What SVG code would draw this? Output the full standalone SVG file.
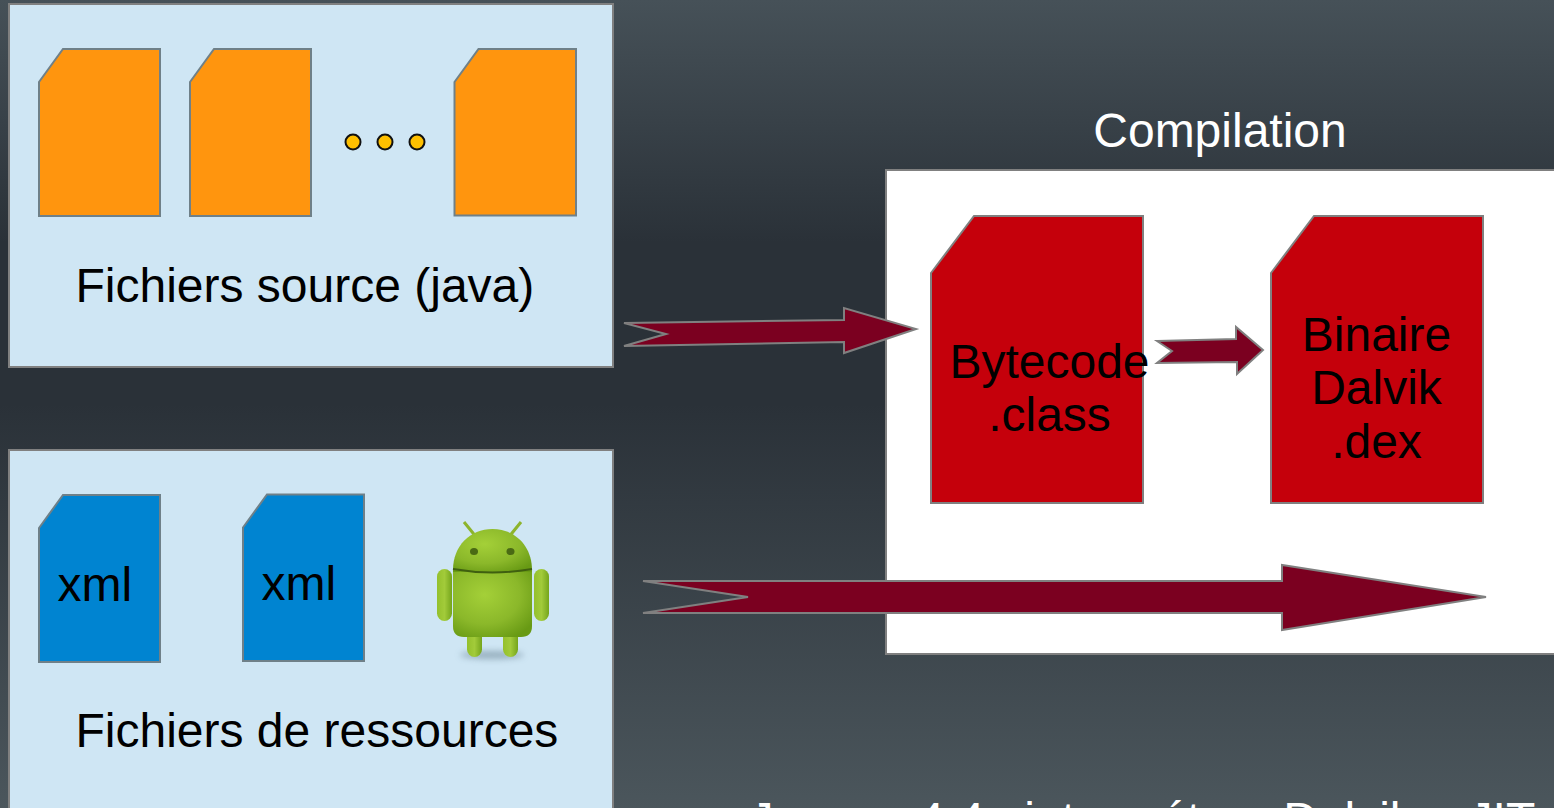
<svg xmlns="http://www.w3.org/2000/svg" width="1554" height="808" viewBox="0 0 1554 808">
<style>
text{font-family:"Liberation Sans",Arial,sans-serif;font-size:48px;fill:#000}
.panel{fill:#cfe6f4;stroke:#808080;stroke-width:2}
.src{fill:#ff950e;stroke:#6f8088;stroke-width:2}
.res{fill:#0084d1;stroke:#6f8088;stroke-width:2}
.bin{fill:#c5000b;stroke:#808080;stroke-width:2}
.arrow{fill:#7b0020;stroke:#808080;stroke-width:2}
.dot{fill:#ffc000;stroke:#111;stroke-width:2}
text.w{fill:#fff}
</style>
<defs>
<linearGradient id="bg" x1="0" y1="0" x2="0" y2="1">
<stop offset="0" stop-color="#465158"/><stop offset="0.3" stop-color="#2a3138"/><stop offset="0.5" stop-color="#2a3138"/><stop offset="1" stop-color="#4b565c"/>
</linearGradient>
<radialGradient id="gr" cx="0.4" cy="0.35" r="0.75">
<stop offset="0" stop-color="#a4d038"/><stop offset="0.6" stop-color="#8bb82a"/><stop offset="1" stop-color="#689a14"/>
</radialGradient>
<linearGradient id="limb" x1="0" y1="0" x2="1" y2="0">
<stop offset="0" stop-color="#94c02c"/><stop offset="0.5" stop-color="#a2cb3a"/><stop offset="1" stop-color="#75a51c"/>
</linearGradient>
<filter id="blur" x="-30%" y="-100%" width="160%" height="300%"><feGaussianBlur stdDeviation="3"/></filter>
</defs>
<rect width="1554" height="808" fill="url(#bg)"/>
<g id="sources">
<rect class="panel" x="9" y="4" width="604" height="363"/>
<path class="src" d="M39 82L63 49H160V216H39Z"/>
<path class="src" d="M190 82L214 49H311V216H190Z"/>
<circle class="dot" cx="353" cy="142" r="7.500"/><circle class="dot" cx="385" cy="142" r="7.500"/><circle class="dot" cx="417" cy="142" r="7.500"/>
<path class="src" d="M454.500 82L478.500 49H576V215.500H454.500Z"/>
<text x="75.500" y="301.500">Fichiers source (java)</text>
</g>
<g id="ressources">
<rect class="panel" x="9" y="450" width="604" height="370"/>
<path class="res" d="M39 528L63 495H160V662H39Z"/>
<text x="57.500" y="601">xml</text>
<path class="res" d="M243 527.500L267 494.500H364V661H243Z"/>
<text x="261.500" y="600">xml</text>
<g id="android">
<ellipse cx="492" cy="655" rx="32" ry="4" fill="#7f98a8" opacity=".7" filter="url(#blur)"/>
<path d="M464 522L477 538M521 522L508 538" stroke="#8db42c" stroke-width="3" fill="none"/>
<rect x="467" y="625" width="15" height="32" rx="7.500" fill="url(#limb)"/>
<rect x="503" y="625" width="15" height="32" rx="7.500" fill="url(#limb)"/>
<path d="M453 572V570C453 546 470 529 492.500 529S532 546 532 570V572Z" fill="url(#gr)"/>
<path d="M453 572H532V626Q532 637 521 637H464Q453 637 453 626Z" fill="url(#gr)"/>
<path d="M453 569Q492.500 576 532 569" stroke="#3f5f10" stroke-width="2" fill="none"/>
<rect x="437" y="569" width="15" height="52" rx="7.500" fill="url(#limb)"/>
<rect x="534" y="569" width="15" height="52" rx="7.500" fill="url(#limb)"/>
<ellipse cx="474" cy="551.500" rx="4" ry="3.500" fill="#4a6a14"/>
<ellipse cx="510.500" cy="551.500" rx="4" ry="3.500" fill="#4a6a14"/>
</g>
<text x="75.500" y="747">Fichiers de ressources</text>
</g>
<g id="compilation">
<rect x="886" y="170" width="680" height="484" fill="#fff" stroke="#808080" stroke-width="2"/>
<text class="w" x="1220" y="147" text-anchor="middle">Compilation</text>
</g>
<g id="bytecode">
<path class="bin" d="M931 273L974 216H1143V503H931Z"/>
<text x="1049.500" y="377.500" text-anchor="middle">Bytecode</text>
<text x="1049.500" y="431" text-anchor="middle">.class</text>
</g>
<g id="dalvik">
<path class="bin" d="M1271 273L1314 216H1483V503H1271Z"/>
<text x="1376.500" y="351" text-anchor="middle">Binaire</text>
<text x="1376.500" y="404" text-anchor="middle">Dalvik</text>
<text x="1376.500" y="458" text-anchor="middle">.dex</text>
</g>
<g id="note"><text class="w" x="749.500" y="836">Jusque 4.4 : interpréteur Dalvik + JIT</text></g>
<g id="connectors">
<path class="arrow" d="M624 323L844 320V308L916 329L844 353V342L624 346L666 334Z"/>
<path class="arrow" d="M1157 341L1236 339V327L1263 350L1237 374V362L1157 363L1172 351Z"/>
<path class="arrow" d="M643 581H1282V565L1486 597L1282 630V613H643L748 597Z"/>
</g>
</svg>
